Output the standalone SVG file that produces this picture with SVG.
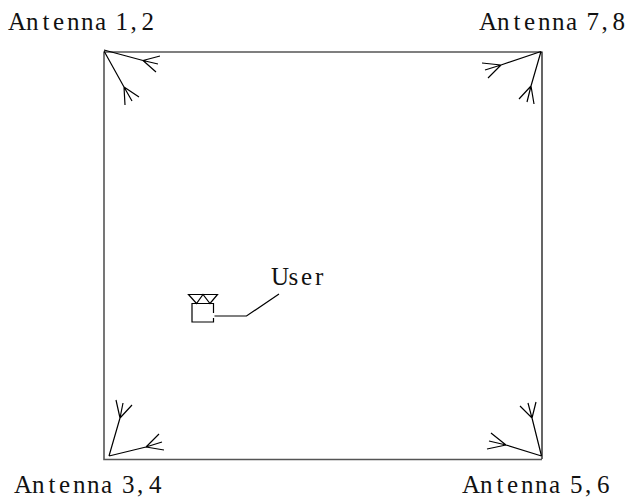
<svg xmlns="http://www.w3.org/2000/svg" width="626" height="498" viewBox="0 0 626 498">
<style>
.l{fill:none;stroke:#000;stroke-width:1.2}
.g{fill:none;stroke:#555;stroke-width:1.6}
text{font-family:"Liberation Serif",serif;font-size:25px;fill:#111}
</style>
<rect width="626" height="498" fill="#fff"/>
<g id="room">
<path class="g" d="M104 52V459.500H542"/>
<path class="l" d="M104 52H542V459"/>
</g>
<g id="antenna-1-2">
<path class="l" d="M104 50L143 60.500M160 56L143 60.500L158 64M143 60.500L156 72M104 51L124 87M139 97L124 87L132 101M124 87L125 105"/>
<text y="30" x="8 26 42.500 53 67 81 95 108 115.500 130.500 141.500">Antenna 1,2</text>
</g>
<g id="antenna-7-8">
<path class="l" d="M541 51.500L501 65M482 63L501 65L485 70M501 65L488 78M541 51.500L531 86M519 99L531 86L527 102M531 86L534 104"/>
<text y="30" x="479 497 513.500 524 538 552 566 579 586.500 601.500 612.500">Antenna 7,8</text>
</g>
<g id="antenna-3-4">
<path class="l" d="M109 456L120 418M116 400L120 418L123 403M120 418L132 405M109 456L146 447M159 434L146 447L162 442M146 447L164 450"/>
<text y="493" x="14 32 48.500 59 73 87 101 114 122 137 149">Antenna 3,4</text>
</g>
<g id="antenna-5-6">
<path class="l" d="M541.500 456L532 418M520 406L532 418L528 403M532 418L536 402M541.500 456L506 445M491 433L506 445L489 441M506 445L487 449"/>
<text y="493" x="462 480 496.500 507 521 535 549 562 570 585 597">Antenna 5,6</text>
</g>
<g id="user">
<path class="l" d="M188.500 294.500H217.500L210 303.500L203 294.500L196.500 303.500Z"/>
<path class="l" d="M213.500 313V303.500H192V322H213.500V318"/>
<text y="285" x="271 288.500 301 315">User</text>
</g>
<g id="connectors">
<path class="l" d="M214.500 316H246.500L279 294"/>
</g>
</svg>
